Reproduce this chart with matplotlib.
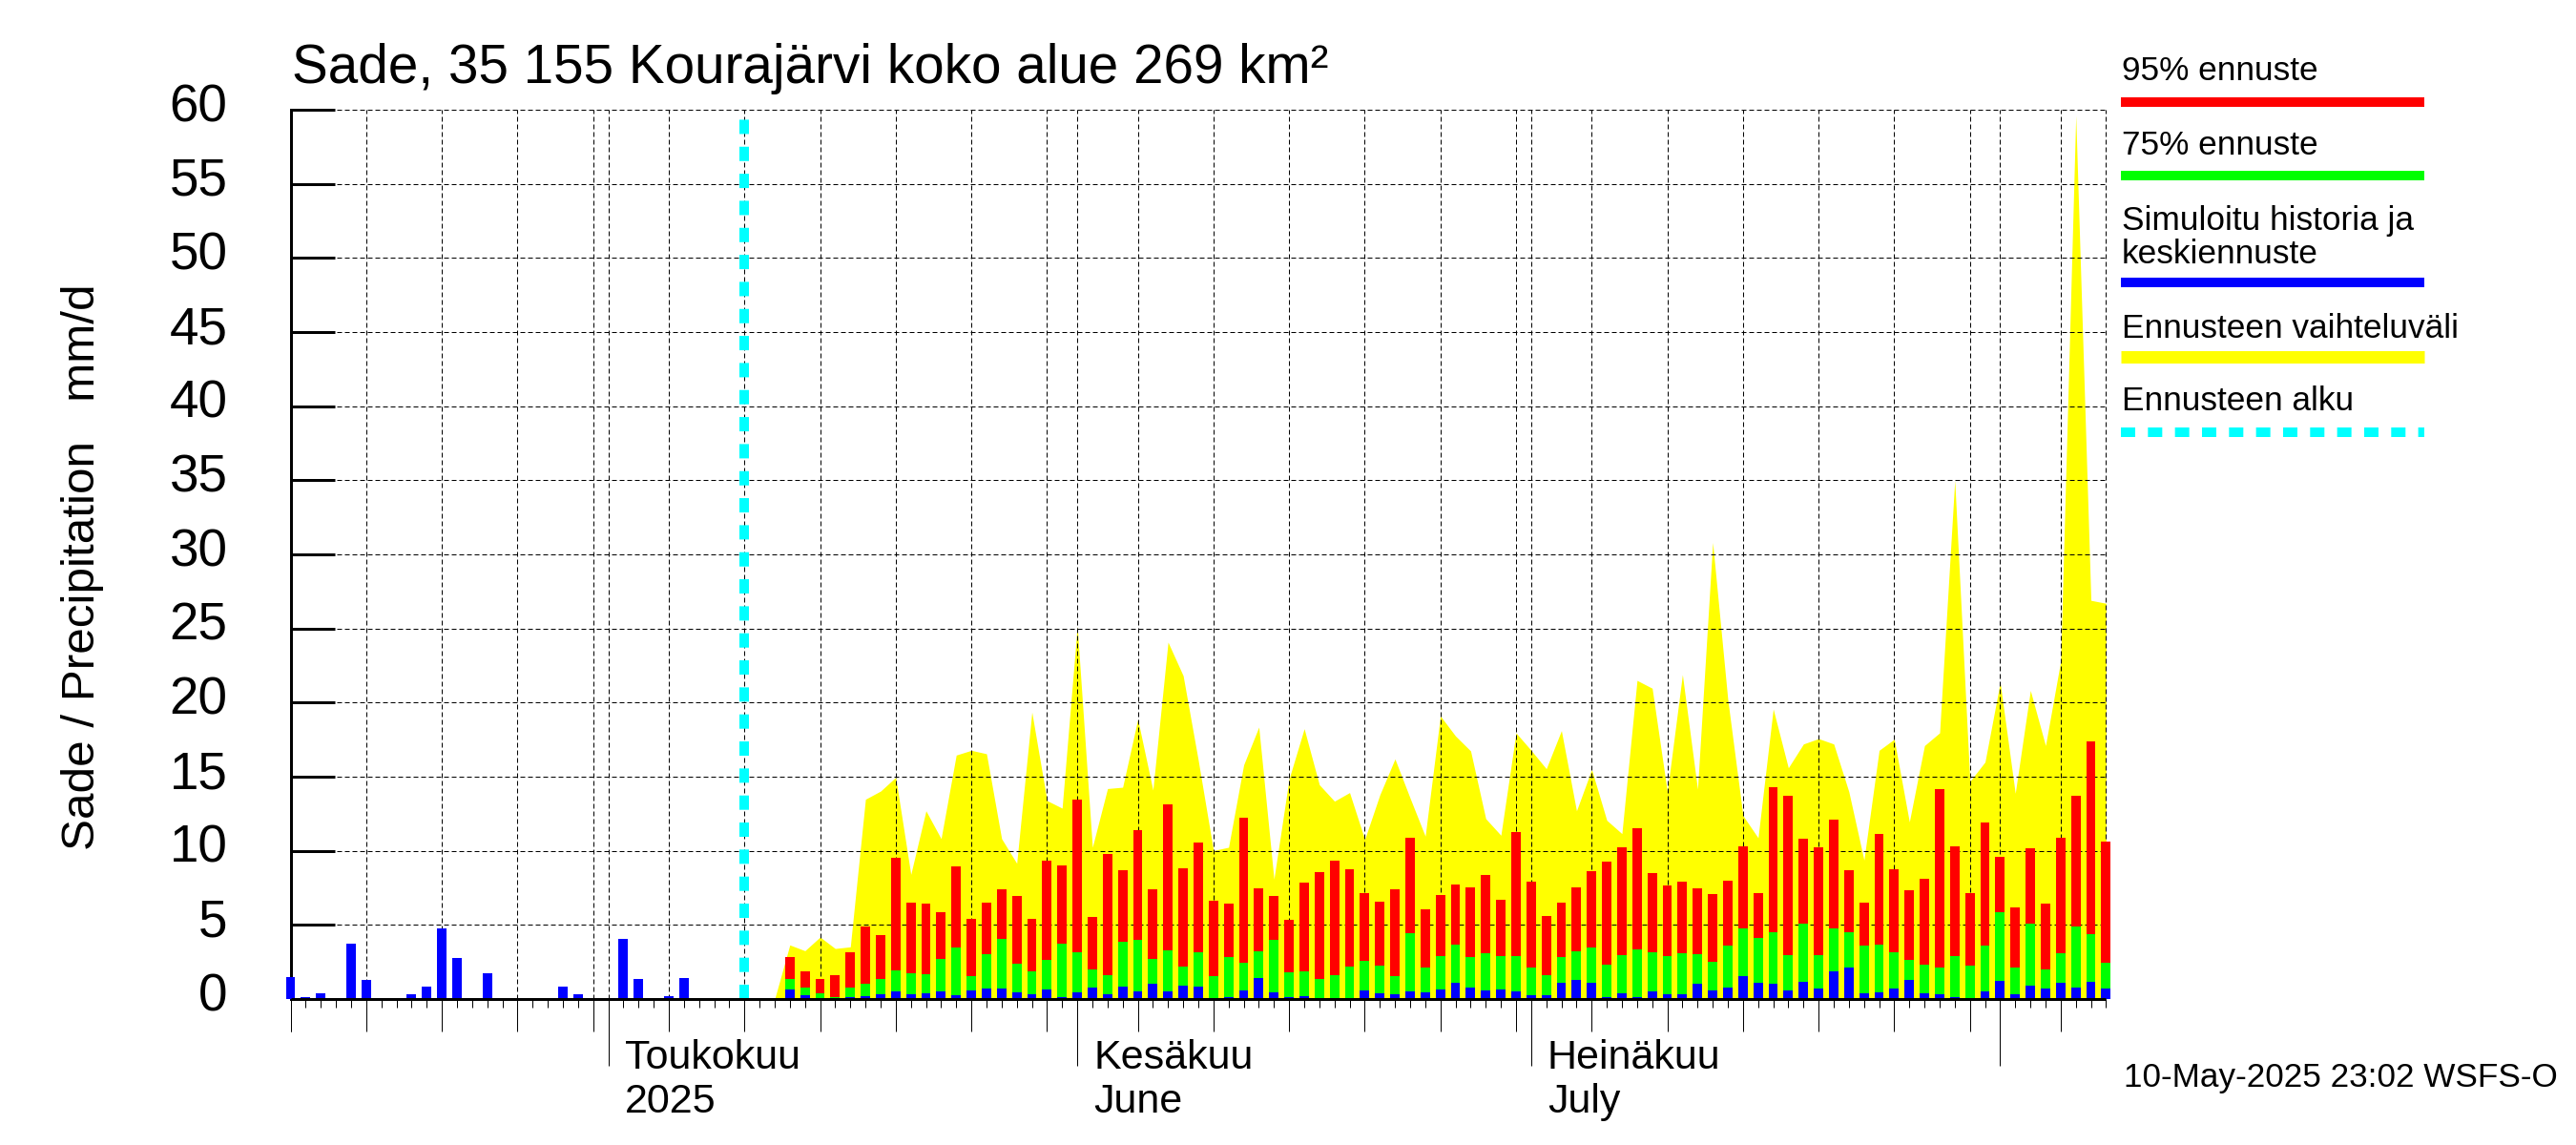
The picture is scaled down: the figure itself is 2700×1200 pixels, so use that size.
import numpy as np
import pandas as pd
import matplotlib
matplotlib.use('Agg')
import matplotlib.pyplot as plt
import matplotlib.dates as mdates
from matplotlib.lines import Line2D
from matplotlib.transforms import ScaledTranslation

plt.rcParams['font.family'] = ['Liberation Sans', 'DejaVu Sans']

# daily dates, last observed day is the forecast start
dates = pd.date_range('2025-04-10', '2025-08-08', freq='D')
forecast_start = pd.Timestamp('2025-05-10')
forecast_first = pd.Timestamp('2025-05-13')
range_first = pd.Timestamp('2025-05-12')

# simulated history and mean forecast, one per day
blue = [1.46, 0.12, 0.36, 0, 3.71, 1.27, 0, 0, 0.3, 0.82, 4.74, 2.75, 0.05, 1.72, 0.03, 0.03, 0.03, 0, 0.82, 0.3,
        0.03, 0.03, 4.03, 1.33, 0, 0.17, 1.39, 0.03, 0.03, 0.03, 0.03, 0, 0,
        0.67, 0.28, 0.03, 0.03, 0.15, 0.21, 0.34, 0.54, 0.34, 0.41, 0.54, 0.28, 0.6, 0.73, 0.73, 0.47, 0.34, 0.67,
        0.15, 0.47, 0.79, 0.34, 0.86, 0.54, 1.05, 0.54, 0.92, 0.86, 0.09, 0.15, 0.6, 1.44, 0.47, 0.15, 0.21, 0.09,
        0.09, 0.09, 0.6, 0.41, 0.34, 0.54, 0.47, 0.67, 1.12, 0.79, 0.6, 0.67, 0.54, 0.28, 0.28, 1.12, 1.31, 1.12,
        0.15, 0.41, 0.15, 0.54, 0.34, 0.34, 1.05, 0.6, 0.79, 1.57, 1.12, 1.05, 0.6, 1.18, 0.73, 1.89, 2.15, 0.41,
        0.47, 0.73, 1.31, 0.41, 0.34, 0.15, 0.03, 0.54, 1.24, 0.34, 0.92, 0.73, 1.12, 0.79, 1.18, 0.7]

# 75% forecast from May 13 on
green = [1.37, 0.79, 0.41, 0.15, 0.79, 1.05, 1.37, 1.95, 1.76, 1.7, 2.73, 3.5, 1.57, 3.05, 4.08, 2.4, 1.89, 2.66,
         3.76, 3.18, 2.02, 1.63, 3.88, 4.01, 2.73, 3.3, 2.21, 3.18, 1.57, 2.85, 2.47, 3.24, 4.01, 1.82, 1.89, 1.37,
         1.63, 2.21, 2.6, 2.27, 1.57, 4.46, 2.15, 2.92, 3.69, 2.85, 3.11, 2.92, 2.92, 2.15, 1.63, 2.85, 3.24, 3.5,
         2.34, 2.98, 3.37, 3.18, 2.92, 3.11, 3.05, 2.53, 3.63, 4.79, 4.14, 4.53, 2.98, 5.11, 2.98, 4.79, 4.53, 3.63,
         3.69, 3.18, 2.66, 2.34, 2.15, 2.92, 2.27, 3.63, 5.88, 2.15, 5.11, 2.02, 3.11, 4.91, 4.4, 2.46]

# 95% forecast from May 13 on
red = [2.85, 1.89, 1.37, 1.63, 3.18, 4.91, 4.33, 9.55, 6.52, 6.46, 5.88, 8.97, 5.43, 6.52, 7.42, 6.97, 5.43, 9.36,
       9.03, 13.48, 5.56, 9.81, 8.71, 11.42, 7.42, 13.15, 8.84, 10.58, 6.65, 6.46, 12.25, 7.49, 6.97, 5.36, 7.88,
       8.58, 9.36, 8.78, 7.17, 6.59, 7.42, 10.9, 6.07, 7.04, 7.75, 7.55, 8.39, 6.72, 11.29, 7.94, 5.62, 6.52, 7.55,
       8.65, 9.29, 10.26, 11.55, 8.52, 7.68, 7.94, 7.49, 7.1, 8.0, 10.32, 7.17, 14.31, 13.73, 10.84, 10.26, 12.12,
       8.71, 6.52, 11.16, 8.78, 7.36, 8.13, 14.18, 10.32, 7.17, 11.93, 9.61, 6.2, 10.19, 6.46, 10.9, 13.73, 17.4, 10.63]

# top of the forecast range from May 12 on
yellow = [0, 3.65, 3.26, 4.18, 3.41, 3.52, 13.48, 14.03, 14.96, 8.41, 12.7, 10.82, 16.46, 16.78, 16.55, 10.82, 9.16,
          19.36, 13.39, 12.88, 25.15, 10.24, 14.2, 14.29, 18.88, 14.1, 24.08, 21.82, 16.1, 10.02, 10.24, 15.8, 18.35,
          8.09, 14.85, 18.24, 14.46, 13.35, 13.93, 10.77, 13.78, 16.2, 13.56, 10.99, 19.1, 17.75, 16.74, 12.17, 11.05,
          17.96, 16.78, 15.54, 18.11, 12.7, 15.49, 12.06, 11.16, 21.5, 20.97, 13.99, 21.89, 14.16, 30.8, 20.2, 12.38,
          10.88, 19.57, 15.6, 17.21, 17.57, 17.21, 13.99, 9.38, 16.78, 17.53, 11.95, 17.1, 17.96, 35.0, 14.68, 15.99,
          21.36, 13.88, 20.82, 17.1, 22.8, 59.6, 26.9, 26.7]

month_labels = [('2025-05-01', 'Toukokuu', '2025'), ('2025-06-01', 'Kesäkuu', 'June'), ('2025-07-01', 'Heinäkuu', 'July')]
y_ticks = list(range(0, 65, 5))
title = 'Sade, 35 155 Kourajärvi koko alue 269 km²'
y_label = 'Sade / Precipitation   mm/d'
stamp = '10-May-2025 23:02 WSFS-O'

W, H = 2700, 1200
PX = 0.72  # points per pixel at dpi 100

fig = plt.figure(figsize=(W / 100, H / 100), dpi=100, facecolor='white')
ax = fig.add_axes([304.5 / W, 1 - 1047 / H, (2207.4 - 304.5) / W, (1047 - 115) / H])
ax.set_xlim(dates[0], dates[-1])
ax.set_ylim(0, 60)
for side in ['top', 'right', 'bottom']:
    ax.spines[side].set_visible(False)
ax.spines['left'].set_linewidth(3 * PX)

fc_dates = dates[dates >= forecast_first]
ax.fill_between(dates[dates >= range_first], yellow, color='#ffff00', lw=0, zorder=1)

# grid between the yellow area and the bars
dash = (0, (5, 3))
grid_days = mdates.DayLocator(bymonthday=[5, 10, 15, 20, 25, 30])
grid_days.set_axis(ax.xaxis)
medium = [mdates.num2date(v).replace(tzinfo=None) for v in grid_days.tick_values(dates[0], dates[-1])]
months = [pd.Timestamp(m[0]) for m in month_labels] + [pd.Timestamp('2025-08-01')]
for d in medium + months + [dates[-1]]:
    ax.axvline(d, color='black', lw=PX, ls=dash, zorder=2, clip_on=False)
for v in y_ticks[1:]:
    ax.axhline(v, color='black', lw=PX, ls=dash, zorder=2, clip_on=False)

w = 0.62
ax.bar(fc_dates, red, width=w, color='#ff0000', zorder=3, clip_on=False)
ax.bar(fc_dates, green, width=w, color='#00ff00', zorder=4, clip_on=False)
ax.bar(dates, blue, width=w, color='#0000ff', zorder=5, clip_on=False)

ax.plot([forecast_start, forecast_start], [0, 59.4], color='#00ffff', lw=10 * PX, ls=(0, (1.5, 1.333)),
        solid_capstyle='butt', dash_capstyle='butt', zorder=6)
ax.plot([dates[0], dates[-1]], [0, 0], color='black', lw=3 * PX, zorder=7, clip_on=False, solid_capstyle='butt')

# ticks: every day short, every grid day medium, month starts long
ax.set_yticks(y_ticks)
ax.tick_params(axis='y', direction='in', length=46 * PX, width=3 * PX, pad=66 * PX, labelsize=39.5)
ax.set_xticks(dates, minor=True)
ax.set_xticks(months)
ax.set_xticklabels([])
ax.tick_params(axis='x', which='minor', length=9 * PX, width=PX)
ax.tick_params(axis='x', which='major', length=70 * PX, width=PX)
sec = ax.secondary_xaxis('bottom')
sec.spines['bottom'].set_visible(False)
sec.set_xticks([dates[0]] + medium)
sec.set_xticklabels([])
sec.tick_params(axis='x', length=34 * PX, width=PX)

for lbl in ax.get_yticklabels():
    lbl.set_transform(lbl.get_transform() + ScaledTranslation(0, 8 / 100, fig.dpi_scale_trans))

for day, first, second in month_labels:
    x = pd.Timestamp(day)
    ax.annotate(first, (x, 0), xytext=(17 * PX, -62 * PX), textcoords='offset points', fontsize=31,
                ha='left', va='center')
    ax.annotate(second, (x, 0), xytext=(17 * PX, -108 * PX), textcoords='offset points', fontsize=31,
                ha='left', va='center')

fig.text(306 / W, 1 - 72 / H, title, fontsize=40.8, ha='left', va='center')
fig.text(87 / W, 1 - 594 / H, y_label, fontsize=35.6, rotation=90, ha='center', va='center')
fig.text(2226 / W, 1 - 1129 / H, stamp, fontsize=25.3, ha='left', va='center')

# legend drawn by hand on the right
legend_texts = [('95% ennuste', 75), ('75% ennuste', 153), ('Simuloitu historia ja', 231), ('keskiennuste', 266),
                ('Ennusteen vaihteluväli', 344), ('Ennusteen alku', 421)]
for text, y in legend_texts:
    fig.text(2224 / W, 1 - y / H, text, fontsize=25.4, ha='left', va='center')
legend_lines = [('#ff0000', 107, 10, '-'), ('#00ff00', 184, 10, '-'), ('#0000ff', 296.4, 10, '-'),
                ('#ffff00', 374, 13, '-'), ('#00ffff', 452.7, 10, (0, (1.5, 1.333)))]
for color, y, lw, ls in legend_lines:
    fig.add_artist(Line2D([2223 / W, 2541 / W], [1 - y / H, 1 - y / H], transform=fig.transFigure, color=color,
                          lw=lw * PX, ls=ls, solid_capstyle='butt', dash_capstyle='butt'))

fig.savefig('out.png', dpi=100)
